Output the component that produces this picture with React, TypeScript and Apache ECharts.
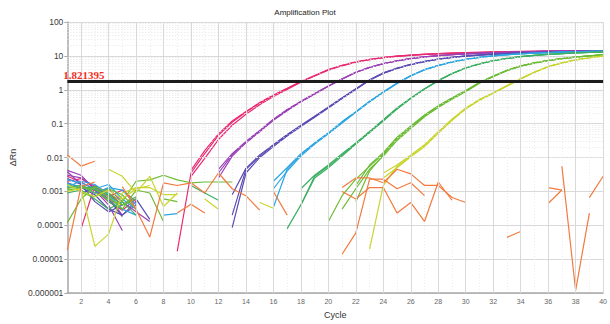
import React, { useEffect, useRef } from 'react';
import * as echarts from 'echarts';

// ---- data -------------------------------------------------------------
const _ = null;

const cycles = [
  1, 2, 3, 4, 5, 6, 7, 8, 9, 10, 11, 12, 13, 14, 15, 16, 17, 18, 19, 20,
  21, 22, 23, 24, 25, 26, 27, 28, 29, 30, 31, 32, 33, 34, 35, 36, 37, 38, 39, 40,
];

const yTickLabels = ['0.000001', '0.00001', '0.0001', '0.001', '0.01', '0.1', '1', '10', '100'];
const xTickLabels = ['2', '4', '6', '8', '10', '12', '14', '16', '18', '20', '22', '24', '26', '28', '30', '32', '34', '36', '38', '40'];

const threshold = 1.821395;
const thresholdLabel = '1.821395';

// ΔRn per cycle (index 0 = cycle 1); null where the value is not positive
const pinkA = [
  0.0028, 0.0019, 0.0011, 0.0005, 0.00028, 0.0006, _, _, 0.000017, 0.0035,
  0.013, 0.045, 0.11, 0.22, 0.4, 0.68, 1.08, 1.72, 2.6, 3.9,
  5.2, 6.6, 7.8, 8.9, 9.8, 10.5, 11.1, 11.6, 12.0, 12.4,
  12.7, 13.0, 13.2, 13.4, 13.6, 13.8, 13.9, 14.0, 14.1, 14.2,
];
const pinkB = [
  _, 0.00008, 0.0015, 0.0009, 0.0004, _, _, _, _, 0.0028,
  0.0095, 0.034, 0.09, 0.19, 0.36, 0.63, 1.02, 1.66, 2.55, 3.8,
  5.1, 6.5, 7.7, 8.8, 9.7, 10.4, 11.0, 11.5, 11.9, 12.3,
  12.6, 12.9, 13.1, 13.3, 13.5, 13.7, 13.8, 13.9, 14.0, 14.1,
];
const pinkC = [
  0.002, 0.0024, 0.0013, 0.0007, 0.0011, 0.0005, _, _, _, 0.0042,
  0.016, 0.05, 0.12, 0.23, 0.42, 0.7, 1.1, 1.76, 2.65, 3.95,
  5.3, 6.7, 7.9, 9.0, 9.9, 10.6, 11.2, 11.7, 12.1, 12.5,
  12.8, 13.1, 13.3, 13.5, 13.7, 13.9, 14.0, 14.1, 14.2, 14.3,
];

const purpleA = [
  0.0042, 0.003, 0.0011, 0.0004, 0.00007, _, _, _, _, _,
  _, 0.0045, 0.013, 0.03, 0.063, 0.135, 0.26, 0.46, 0.77, 1.3,
  2.1, 3.3, 4.6, 5.9, 7.2, 8.4, 9.4, 10.2, 10.9, 11.5,
  12.0, 12.4, 12.8, 13.1, 13.4, 13.6, 13.8, 14.0, 14.1, 14.2,
];
const purpleB = [
  0.003, 0.0025, 0.0014, 0.0007, 0.0002, 0.0004, _, _, _, _,
  _, 0.0025, 0.011, 0.027, 0.058, 0.125, 0.24, 0.44, 0.74, 1.27,
  2.05, 3.25, 4.55, 5.85, 7.1, 8.3, 9.3, 10.1, 10.8, 11.4,
  11.9, 12.3, 12.7, 13.0, 13.3, 13.5, 13.7, 13.9, 14.0, 14.1,
];
const purpleC = [
  0.0038, 0.0016, 0.0009, 0.0012, 0.0005, 0.00025, 0.00013, _, _, _,
  _, 0.0035, 0.012, 0.029, 0.06, 0.13, 0.25, 0.45, 0.76, 1.29,
  2.08, 3.28, 4.58, 5.88, 7.15, 8.35, 9.35, 10.15, 10.85, 11.45,
  11.95, 12.35, 12.75, 13.05, 13.35, 13.55, 13.75, 13.95, 14.05, 14.15,
];

const indigoA = [
  0.0018, 0.0013, 0.0008, 0.0003, 0.0002, 0.0005, _, _, _, _,
  _, _, 0.0002, 0.0045, 0.011, 0.023, 0.046, 0.087, 0.16, 0.3,
  0.57, 1.05, 1.95, 3.1, 4.3, 5.6, 6.8, 8.0, 9.0, 9.9,
  10.6, 11.2, 11.7, 12.1, 12.5, 12.8, 13.1, 13.3, 13.5, 13.7,
];
const indigoB = [
  0.0024, 0.0016, 0.0005, 0.00025, 0.0004, 0.0006, 0.00015, _, _, _,
  _, _, 0.000085, 0.0035, 0.01, 0.021, 0.043, 0.083, 0.155, 0.29,
  0.55, 1.02, 1.9, 3.05, 4.25, 5.55, 6.75, 7.95, 8.95, 9.85,
  10.55, 11.15, 11.65, 12.05, 12.45, 12.75, 13.05, 13.25, 13.45, 13.65,
];
const indigoC = [
  _, 0.0009, 0.0012, 0.0006, 0.00018, _, _, _, _, _,
  _, _, 0.0008, 0.0048, 0.012, 0.024, 0.048, 0.09, 0.165, 0.31,
  0.58, 1.07, 1.98, 3.15, 4.35, 5.65, 6.85, 8.05, 9.05, 9.95,
  10.65, 11.25, 11.75, 12.15, 12.55, 12.85, 13.15, 13.35, 13.55, 13.75,
];

const blueA = [
  0.0022, 0.0018, 0.0012, 0.0016, 0.0006, 0.0003, _, _, _, _,
  _, _, _, _, _, 0.00034, 0.0045, 0.012, 0.026, 0.052,
  0.11, 0.22, 0.45, 0.85, 1.55, 2.6, 3.9, 5.2, 6.6, 7.9,
  9.0, 10.0, 10.8, 11.5, 12.0, 12.5, 12.9, 13.2, 13.5, 13.7,
];
const blueB = [
  0.0017, 0.0014, 0.0009, 0.0013, 0.0011, 0.0004, _, 0.0002, 0.00022, _,
  _, _, _, _, _, 0.0012, 0.004, 0.011, 0.025, 0.05,
  0.105, 0.215, 0.44, 0.83, 1.52, 2.55, 3.85, 5.15, 6.55, 7.85,
  8.95, 9.95, 10.75, 11.45, 11.95, 12.45, 12.85, 13.15, 13.45, 13.65,
];
const blueC = [
  0.0014, 0.002, 0.0016, 0.0008, 0.0003, 0.0002, _, _, _, _,
  _, _, _, _, _, 0.002, 0.005, 0.013, 0.027, 0.054,
  0.115, 0.225, 0.46, 0.87, 1.58, 2.65, 3.95, 5.25, 6.65, 7.95,
  9.05, 10.05, 10.85, 11.55, 12.05, 12.55, 12.95, 13.25, 13.55, 13.75,
];

const greenA = [
  0.0013, 0.0015, 0.0011, 0.0008, 0.0004, 0.0007, _, _, _, _,
  _, _, _, _, _, _, _, 0.0004, 0.0028, 0.0055,
  0.012, 0.026, 0.057, 0.125, 0.28, 0.56, 1.06, 1.86, 3.0, 4.4,
  5.8, 7.2, 8.4, 9.5, 10.4, 11.1, 11.7, 12.2, 12.6, 13.0,
];
const greenB = [
  0.0009, 0.0011, 0.0006, 0.0003, 0.0005, 0.0002, _, _, _, 0.0015,
  0.0009, 0.00055, _, _, _, _, 0.00008, 0.0004, 0.0025, 0.005,
  0.011, 0.025, 0.055, 0.12, 0.27, 0.55, 1.05, 1.84, 2.98, 4.38,
  5.78, 7.18, 8.38, 9.48, 10.38, 11.08, 11.68, 12.18, 12.58, 12.98,
];
const greenC = [
  0.0016, 0.0012, 0.0014, 0.0005, 0.0003, _, _, _, _, _,
  _, _, _, _, _, _, _, 0.0012, 0.003, 0.006,
  0.013, 0.027, 0.059, 0.13, 0.29, 0.57, 1.07, 1.88, 3.02, 4.42,
  5.82, 7.22, 8.42, 9.52, 10.42, 11.12, 11.72, 12.22, 12.62, 13.02,
];

const limeA = [
  0.00012, 0.0006, 0.0014, 0.0009, 0.0005, 0.002, 0.0022, 0.003, 0.0022, 0.0018,
  0.0019, 0.0019, 0.0019, _, _, _, _, _, _, 0.00013,
  0.00075, 0.0023, 0.0055, 0.013, 0.035, 0.078, 0.17, 0.32, 0.55, 0.9,
  1.6, 2.5, 3.7, 5.0, 6.2, 7.3, 8.3, 9.2, 10.0, 10.8,
];
const limeB = [
  0.0011, 0.0013, 0.0012, 0.0007, 0.0003, 0.0011, 0.0009, 0.00013, _, _,
  _, _, _, _, _, _, _, _, _, _,
  0.0003, 0.0012, 0.0045, 0.011, 0.032, 0.072, 0.16, 0.3, 0.53, 0.87,
  1.55, 2.45, 3.65, 4.95, 6.15, 7.25, 8.25, 9.15, 9.95, 10.75,
];
const limeC = [
  0.0012, 0.0015, 0.0009, 0.0006, 0.0004, 0.0006, _, 0.0006, 0.0005, _,
  _, _, _, _, _, _, _, _, _, _,
  _, 0.0005, 0.004, 0.012, 0.038, 0.082, 0.175, 0.33, 0.56, 0.92,
  1.62, 2.52, 3.72, 5.02, 6.22, 7.32, 8.32, 9.22, 10.02, 10.82,
];
const limeD = [
  _, 0.0009, 0.0007, 0.0012, 0.0008, 0.0003, _, _, _, _,
  _, _, _, _, _, _, _, _, _, _,
  _, 0.0015, 0.006, 0.014, 0.04, 0.085, 0.18, 0.34, 0.58, 0.95,
  1.66, 2.56, 3.76, 5.06, 6.26, 7.36, 8.36, 9.26, 10.06, 10.86,
];

const yellowA = [
  0.001, 0.0012, 0.000024, 0.000055, 0.0009, 0.0013, 0.0013, 0.0008, 0.0008, _,
  0.0006, 0.0003, _, _, _, _, _, _, _, _,
  _, _, 0.00002, 0.0015, 0.0055, 0.011, 0.022, 0.055, 0.13, 0.28,
  0.5, 0.8, 1.3, 2.1, 3.3, 4.8, 6.2, 7.6, 8.8, 9.9,
];
const yellowB = [
  _, _, _, 0.0045, 0.0028, 0.0009, 0.0028, 0.00036, 0.0009, _,
  _, _, _, _, 0.00047, 0.00032, _, _, _, _,
  _, _, _, 0.0035, 0.006, 0.012, 0.024, 0.058, 0.135, 0.29,
  0.52, 0.82, 1.33, 2.13, 3.33, 4.83, 6.23, 7.63, 8.83, 9.93,
];
const yellowC = [
  0.0016, 0.001, 0.0007, 0.0011, 0.0006, 0.0012, 0.0015, _, _, _,
  _, _, _, _, _, _, _, _, _, _,
  _, _, _, 0.0025, 0.005, 0.0105, 0.021, 0.052, 0.125, 0.27,
  0.49, 0.79, 1.28, 2.08, 3.28, 4.78, 6.18, 7.58, 8.78, 9.88,
];

// no-template controls
const ntcA = [
  0.012, 0.0056, 0.0078, _, _, _, _, _, _, _,
  _, _, _, _, _, _, _, _, _, _,
  0.0013, 0.0025, 0.0025, 0.0018, 0.0045, 0.0033, 0.0015, 0.0015, 0.00066, 0.00047,
  _, _, _, _, _, _, 0.0055, 0.0000012, 0.00023, _,
];
const ntcB = [
  0.000019, 0.0014, 0.0019, _, 0.0014, 0.0003, 0.000045, 0.0018, 0.0015, 0.0018,
  0.0009, 0.0035, 0.0012, 0.00075, 0.00028, _, _, _, _, _,
  0.000014, 0.00006, 0.0023, 0.0023, 0.0012, 0.0018, 0.00075, _, _, _,
  _, _, _, _, _, _, _, _, _, _,
];
const ntcC = [
  _, _, _, _, _, _, _, _, 0.00023, 0.00042,
  0.00023, _, _, _, _, 0.001, 0.0002, _, _, _,
  0.001, 0.0006, 0.0013, 0.0013, 0.00023, 0.00047, 0.00013, 0.0019, 0.00055, _,
  _, _, 0.000044, 0.000066, _, 0.00044, 0.0011, _, _, _,
];
const ntcD = [
  _, _, _, _, _, _, _, _, _, _,
  _, _, _, _, _, _, _, _, _, _,
  _, _, _, _, _, _, _, _, _, _,
  _, _, _, _, _, 0.0013, 0.0011, _, 0.00066, 0.0028,
];

const wellGroups = [
  { color: '#ea2a72', wells: [pinkA, pinkB, pinkC] },
  { color: '#9b40b6', wells: [purpleA, purpleB, purpleC] },
  { color: '#5a4cb2', wells: [indigoA, indigoB, indigoC] },
  { color: '#2ba6e2', wells: [blueA, blueB, blueC] },
  { color: '#3caf62', wells: [greenA, greenB, greenC] },
  { color: '#6cbd35', wells: [limeA, limeB, limeC, limeD] },
  { color: '#c9d52c', wells: [yellowA, yellowB, yellowC] },
  { color: '#f37a3d', wells: [ntcA, ntcB, ntcC, ntcD] },
];

// ---- chart ------------------------------------------------------------
const FONT = 'Liberation Sans, Arial, sans-serif';

function buildOption() {
  const wellSeries = wellGroups.flatMap((g) =>
    g.wells.map((w) => ({
      type: 'line',
      data: w.map((v, i) => [cycles[i], v === null ? '-' : v]),
      showSymbol: false,
      symbol: 'none',
      connectNulls: false,
      silent: true,
      z: 3,
      lineStyle: { color: g.color, width: 1.2 },
      itemStyle: { color: g.color },
    }))
  );

  // log-decade minor rules (2..9 within each decade) and major rules at labelled cycles
  const minorRules: any[] = [];
  for (let e = -6; e < 2; e++) {
    for (let k = 2; k <= 9; k++) {
      minorRules.push({ yAxis: k * Math.pow(10, e) });
    }
  }
  const majorCycleRules = xTickLabels.map((t) => ({
    xAxis: Number(t),
    lineStyle: { color: '#d9d9d9', type: 'solid', width: 1 },
  }));

  const gridSeries = {
    type: 'line',
    data: [],
    silent: true,
    z: 1,
    markLine: {
      silent: true,
      symbol: ['none', 'none'],
      label: { show: false },
      lineStyle: { color: '#e6e6e6', type: [1, 2], width: 1 },
      data: [...minorRules, ...majorCycleRules],
    },
  };

  const thresholdSeries = {
    type: 'line',
    data: [],
    silent: true,
    z: 6,
    markLine: {
      silent: true,
      symbol: ['none', 'none'],
      lineStyle: { color: '#1c1c1c', type: 'solid', width: 3 },
      label: {
        show: true,
        position: 'insideStartTop',
        formatter: thresholdLabel,
        color: '#f2301f',
        fontFamily: 'Liberation Serif, Times New Roman, serif',
        fontSize: 11,
        fontWeight: 'bold',
        distance: [-4, 0],
      },
      data: [{ yAxis: threshold }],
    },
  };

  return {
    animation: false,
    backgroundColor: '#ffffff',
    title: {
      text: 'Amplification Plot',
      left: 'center',
      top: 3,
      textStyle: { fontFamily: FONT, fontSize: 8, fontWeight: 'normal', color: '#222' },
    },
    grid: { left: 62, right: 0, top: 22, bottom: 24, containLabel: false },
    xAxis: {
      type: 'value',
      min: 1,
      max: 40,
      interval: 1,
      name: 'Cycle',
      nameLocation: 'middle',
      nameGap: 14,
      nameTextStyle: { fontFamily: FONT, fontSize: 9, color: '#333' },
      axisLine: { show: true, onZero: false, lineStyle: { color: '#a8a8a8', width: 1.5 } },
      axisTick: { show: false },
      axisLabel: {
        fontFamily: FONT,
        fontSize: 7,
        color: '#666',
        margin: 5,
        showMaxLabel: true,
        formatter: (v: number) => (xTickLabels.includes(String(v)) ? String(v) : ''),
      },
      splitLine: { show: true, lineStyle: { color: '#ececec', type: [1, 2], width: 1 } },
    },
    yAxis: {
      type: 'log',
      logBase: 10,
      min: 0.000001,
      max: 100,
      interval: 1,
      splitNumber: 8,
      name: 'ΔRn',
      nameLocation: 'middle',
      nameRotate: 90,
      nameGap: 38,
      nameTextStyle: { fontFamily: FONT, fontSize: 9, color: '#333' },
      axisLine: { show: true, lineStyle: { color: '#a8a8a8', width: 1.5 } },
      axisTick: { show: true, length: 3, lineStyle: { color: '#a8a8a8' } },
      axisLabel: {
        fontFamily: FONT,
        fontSize: 8.5,
        color: '#3a3a3a',
        margin: 4,
        formatter: (v: number) => yTickLabels[Math.round(Math.log10(v)) + 6] ?? '',
      },
      splitLine: { show: true, lineStyle: { color: '#d9d9d9', width: 1 } },
    },
    series: [gridSeries, ...wellSeries, thresholdSeries],
  };
}

export default function App() {
  const ref = useRef<HTMLDivElement>(null);

  useEffect(() => {
    if (!ref.current) return;
    const chart = echarts.init(ref.current, undefined, { renderer: 'svg' });
    chart.setOption(buildOption() as any);
    return () => chart.dispose();
  }, []);

  return (
    <div
      ref={ref}
      style={{ position: 'fixed', left: 0, top: 0, width: 610, height: 324, background: '#fff' }}
    />
  );
}
